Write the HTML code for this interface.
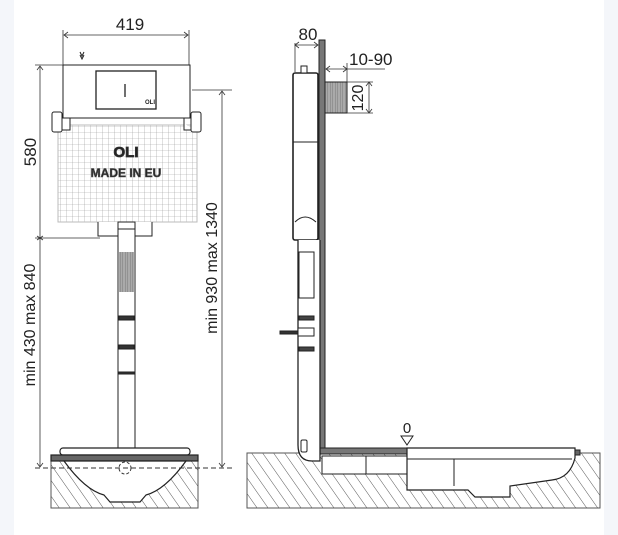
<!DOCTYPE html>
<html><head><meta charset="utf-8"><style>
html,body{margin:0;padding:0;background:#fff;}
svg{display:block;}
text{font-family:"Liberation Sans",Arial,sans-serif;fill:#222;}
</style></head><body>
<svg width="618" height="535" viewBox="0 0 618 535" xmlns="http://www.w3.org/2000/svg">
<defs>
<pattern id="h" width="9" height="9" patternUnits="userSpaceOnUse" patternTransform="rotate(-35)">
<rect width="9" height="9" fill="#fff"/><line x1="0" y1="0" x2="0" y2="9" stroke="#444" stroke-width="0.9"/>
</pattern>
<pattern id="g" width="6" height="6" patternUnits="userSpaceOnUse">
<rect width="6" height="6" fill="#fff"/><path d="M0 0H6M0 0V6" stroke="#999" stroke-width="0.6"/>
</pattern>
<pattern id="s" width="2.5" height="4" patternUnits="userSpaceOnUse">
<rect width="2.5" height="4" fill="#aaa"/><line x1="0" y1="0" x2="0" y2="4" stroke="#666" stroke-width="0.7"/>
</pattern>
</defs>
<rect x="0" y="0" width="14" height="535" fill="#f4f6fa"/>
<rect x="604" y="0" width="14" height="535" fill="#f4f6fa"/>

<g stroke="#333" fill="none" stroke-width="0.8">
<line x1="63" y1="30" x2="63" y2="65"/><line x1="189" y1="30" x2="189" y2="65"/>
<line x1="64" y1="35" x2="188" y2="35"/>
<path d="M68 32 L64 35 L68 38 M184 32 L188 35 L184 38"/>
<line x1="35" y1="65" x2="63" y2="65"/><line x1="35" y1="238" x2="100" y2="238"/>
<line x1="40" y1="66" x2="40" y2="467"/>
<path d="M37 70 L40 66 L43 70 M37 236 L43 240 M43 236 L37 240 M37 463 L40 467 L43 463"/>
<line x1="192" y1="90" x2="232" y2="90"/>
<line x1="222" y1="91" x2="222" y2="467"/>
<path d="M219 95 L222 91 L225 95 M219 463 L222 467 L225 463"/>
</g>
<text x="130" y="30" font-size="17" text-anchor="middle">419</text>
<text transform="translate(36,152) rotate(-90)" font-size="17" text-anchor="middle">580</text>
<text transform="translate(35,325) rotate(-90)" font-size="16" text-anchor="middle">min 430 max 840</text>
<text transform="translate(217,268) rotate(-90)" font-size="16" text-anchor="middle">min 930 max 1340</text>

<g stroke="#222" stroke-width="1">
<rect x="58" y="125" width="139" height="97" fill="url(#g)" stroke="#bbb"/>
<path d="M63 65 H190 V118 H184 V130 H197 M63 65 V118 H70 V130 H58" fill="#fff"/>
<path d="M70 118 H184" fill="none"/>
<rect x="96" y="71" width="60" height="38" fill="#fff" stroke-width="1.3"/>
<line x1="125" y1="84" x2="125" y2="97" stroke-width="1.3"/>
<rect x="52" y="112" width="10" height="20" rx="2" fill="#fff"/>
<rect x="191" y="112" width="10" height="20" rx="2" fill="#fff"/>
<path d="M98 222 V236 H152 V222" fill="#fff"/>
<rect x="118" y="222" width="17" height="7" fill="#fff"/>
</g>
<text x="145" y="104" font-size="6" font-weight="bold">OLI</text>
<text x="126" y="157" font-size="15" font-weight="bold" text-anchor="middle" fill="#fff" stroke="#333" stroke-width="0.8">OLI</text>
<text x="126" y="177" font-size="12" font-weight="bold" text-anchor="middle" fill="#fff" stroke="#555" stroke-width="0.6">MADE IN EU</text>
<path d="M80 55 l2 4 l2 -4 M80 52 l2 4 l2 -4" stroke="#222" fill="none"/>

<g stroke="#222" stroke-width="1" fill="#fff">
<rect x="118" y="229" width="17" height="220"/>
<rect x="119" y="252" width="15" height="40" fill="url(#s)" stroke="none"/>
<rect x="119" y="316" width="15" height="4" fill="#333"/>
<rect x="119" y="345" width="15" height="4" fill="#333"/>
<rect x="118" y="372" width="17" height="2" fill="#333"/>
</g>
<rect x="51" y="461" width="147" height="47" fill="url(#h)" stroke="#555"/>
<g stroke="#222" stroke-width="1.2">
<rect x="60" y="448" width="130" height="7" rx="3" fill="#fff"/>
<rect x="51" y="455" width="147" height="6" fill="#666"/>
<path d="M64 461 Q85 490 104 495 L110 502 H140 L146 495 Q165 490 186 461 Z" fill="#fff"/>
</g>
<line x1="35" y1="468" x2="232" y2="468" stroke="#333" stroke-dasharray="5,3"/>
<circle cx="125" cy="468" r="6" fill="none" stroke="#333" stroke-dasharray="3,2"/>

<rect x="247" y="453" width="353" height="55" fill="url(#h)" stroke="#555"/>
<g stroke="#222" stroke-width="1">
<rect x="319" y="40" width="6" height="410" fill="#777"/>
<rect x="320" y="448" width="88" height="6" fill="#777"/>
<rect x="325" y="82" width="22" height="31" fill="url(#s)"/>
<rect x="293" y="73" width="25" height="167" rx="2" fill="#fff" stroke-width="1.6"/>
<line x1="293" y1="142" x2="318" y2="142"/>
<path d="M295 222 Q305 212 316 222" fill="none"/>
<rect x="301" y="66" width="6" height="7" fill="#fff"/>
<path d="M298 240 V445 Q298 461 312 461 H320 V240" fill="#fff" stroke-width="1.3"/>
<rect x="299" y="252" width="15" height="46" fill="#fff"/>
<rect x="299" y="316" width="15" height="4" fill="#444"/>
<rect x="299" y="347" width="15" height="4" fill="#444"/>
<rect x="280" y="331" width="18" height="3" fill="#333"/>
<rect x="298" y="328" width="16" height="8" fill="#fff"/>
<rect x="301" y="440" width="6" height="12" rx="1.5" fill="#fff"/>
<rect x="322" y="456" width="86" height="18" fill="#fff"/>
<line x1="366" y1="456" x2="366" y2="474"/>
<path d="M407 448 H575 V458 Q570 478 552 480 L510 486 V497 H475 L468 490 H407 Z" fill="#fff" stroke-width="1.2"/>
<line x1="407" y1="459" x2="572" y2="459"/>
<line x1="454" y1="459" x2="454" y2="486"/>
<rect x="575" y="450" width="5" height="5" fill="#666"/>
</g>
<path d="M401 436 H413 L407 445 Z" fill="#fff" stroke="#222"/>
<text x="407" y="433" font-size="15" text-anchor="middle">0</text>

<g stroke="#333" fill="none" stroke-width="0.8">
<line x1="295" y1="43" x2="295" y2="72"/>
<line x1="295" y1="45" x2="318" y2="45"/>
<path d="M299 42 L295 45 L299 48 M314 42 L318 45 L314 48"/>
<line x1="347" y1="63" x2="347" y2="82"/>
<line x1="326" y1="69" x2="385" y2="69"/>
<path d="M330 66 L326 69 L330 72 M343 66 L347 69 L343 72"/>
<line x1="347" y1="82" x2="373" y2="82"/><line x1="347" y1="113" x2="373" y2="113"/>
<line x1="369" y1="82" x2="369" y2="113"/>
<path d="M366 86 L369 82 L372 86 M366 109 L369 113 L372 109"/>
</g>
<text x="308" y="40" font-size="17" text-anchor="middle">80</text>
<text x="349" y="65" font-size="17">10-90</text>
<text transform="translate(363,98) rotate(-90)" font-size="16" text-anchor="middle">120</text>
</svg>
</body></html>
